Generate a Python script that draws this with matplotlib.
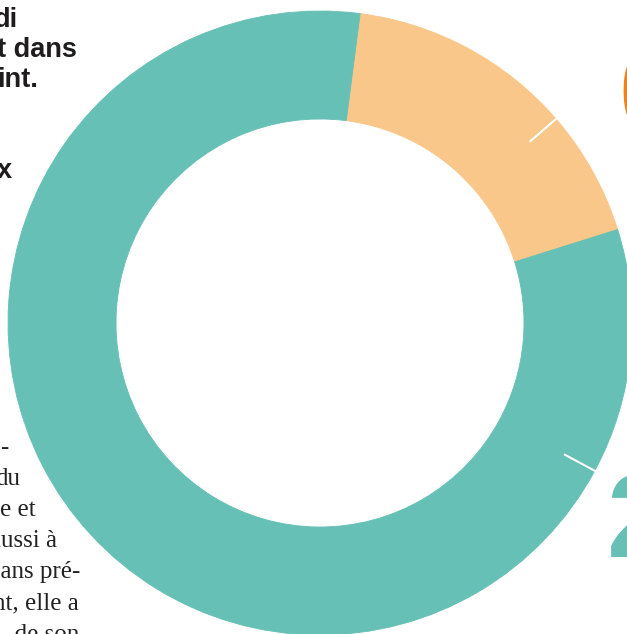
import numpy as np
import matplotlib
matplotlib.use("Agg")
import matplotlib.pyplot as plt

# donut shares, clockwise from the top boundary
segment_values = [11.6, 6.5, 12.7, 69.2]
segment_colors = ['#FAC78A', '#FAC78A', '#66C0B5', '#66C0B5']

# newspaper text around the chart
headline_lines = ['di', 't dans', 'int.', '', '', 'x']
body_lines = ['-', 'du', 'e et', 'aussi à', 'dans pré-', 'ant, elle a', ', de son']
big_digit = '2'
side_digit = '0'

W, H = 627, 634
fig = plt.figure(figsize=(W / 100, H / 100), dpi=100)
ax = fig.add_axes([0, 0, 1, 1])

cx, cy = 320, H - 323
r_out, ring_w = 312, 108
start = 90 - 7.4

wedges, _ = ax.pie(segment_values, colors=segment_colors, startangle=start,
                   counterclock=False, center=(cx, cy), radius=r_out,
                   wedgeprops=dict(width=ring_w))
# hide the antialiasing seams between wedges
for w, c in zip(wedges, segment_colors):
    w.set_edgecolor(c)
    w.set_linewidth(0.6)

# small white ticks where two wedges of the same colour meet
cum = np.cumsum(segment_values) / sum(segment_values) * 360
for i in range(len(segment_values) - 1):
    if segment_colors[i] == segment_colors[i + 1]:
        a = np.radians(start - cum[i])
        r = np.array([r_out + 1, r_out - 35])
        ax.plot(cx + r * np.cos(a), cy + r * np.sin(a), color='white', lw=1.5,
                solid_capstyle='butt', zorder=5)

ax.set_xlim(0, W)
ax.set_ylim(0, H)
ax.axis('off')

# bold headline fragments (cut at the left edge)
head_right = [18, 77, 38, 0, 0, 12]
for i, s in enumerate(headline_lines):
    if s:
        ax.text(head_right[i], H - (27 + i * 30.2), s, ha='right', va='baseline',
                fontsize=19.5, fontweight='bold', family='Liberation Sans', color='#1E1C1D')

# serif body fragments
body_right = [8, 20, 36, 57, 80, 79, 79]
for i, s in enumerate(body_lines):
    ax.text(body_right[i], H - (454 + i * 31), s, ha='right', va='baseline',
            fontsize=18, family='Liberation Serif', color='#222222')

# large digits clipped at the right edge
ax.text(607, H - 557, big_digit, ha='left', va='baseline', fontsize=85,
        fontweight='bold', family='Liberation Sans', color='#66C0B5')
ax.text(618, H - 132, side_digit, ha='left', va='baseline', fontsize=85,
        fontweight='bold', family='Liberation Sans', color='#F0801A')

fig.savefig('out.png', dpi=100)
